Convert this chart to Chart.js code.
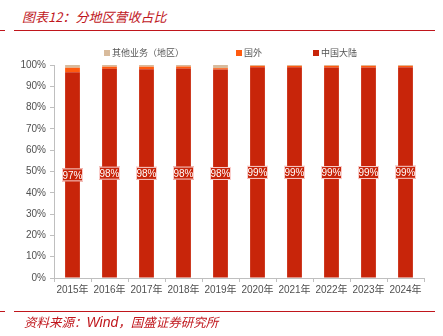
<!DOCTYPE html>
<html>
<head>
<meta charset="utf-8">
<script src="https://cdn.jsdelivr.net/npm/chart.js@4.4.1/dist/chart.umd.min.js"></script>
<style>
    body { margin: 0; background: #fff; }
    #wrap { position: relative; width: 443px; height: 336px; overflow: hidden; }
    #myChart { position: absolute; left: 0; top: 0; }
    .title { position: absolute; left: 22px; top: 7px; font: italic 13px "Noto Sans CJK SC", sans-serif; color: #C0161C; }
    .source { position: absolute; left: 24px; top: 312px; font: italic 12.5px "Noto Sans CJK SC", sans-serif; color: #C0161C; }
    .line { position: absolute; height: 1px; background: #C0161C; }
</style>
</head>
<body>
<div id="wrap">
    <div class="title">图表12：分地区营收占比</div>
    <div class="line" style="left:0;width:5px;top:30px"></div>
    <div class="line" style="left:14px;width:421px;top:30px"></div>
    <canvas id="myChart" width="443" height="336"></canvas>
    <div class="line" style="left:0;width:5px;top:311px"></div>
    <div class="line" style="left:14px;width:421px;top:311px"></div>
    <div class="source">资料来源：<span style="font-family:'Liberation Sans';font-size:14px">Wind</span>，国盛证券研究所</div>
</div>
<script>
const years = ["2015年", "2016年", "2017年", "2018年", "2019年", "2020年", "2021年", "2022年", "2023年", "2024年"];
const mainland = [96.6, 98.2, 98.0, 98.3, 97.9, 98.9, 98.9, 98.8, 98.8, 99.0];
const overseas = [2.1, 1.0, 1.2, 1.0, 0.6, 0.7, 0.7, 0.8, 0.8, 0.6];
const others = [1.3, 0.8, 0.8, 0.7, 1.5, 0.4, 0.4, 0.4, 0.4, 0.4];
const yTicks = [0, 10, 20, 30, 40, 50, 60, 70, 80, 90, 100];

const RED = "#C8250A";
const ORANGE = "#FF5A0F";
const TAN = "#D8BB9C";

// 中国大陆 数据标签
const labelPlugin = {
    id: "labelPlugin",
    afterDatasetsDraw(chart) {
        const ctx = chart.ctx;
        const meta = chart.getDatasetMeta(0);
        ctx.save();
        ctx.font = "10px 'Liberation Sans', Arial, sans-serif";
        ctx.textAlign = "center";
        ctx.textBaseline = "middle";
        meta.data.forEach(function (bar, i) {
            const cy = (bar.y + bar.base) / 2;
            const w = 21, h = 13;
            ctx.fillStyle = RED;
            ctx.fillRect(bar.x - w / 2, cy - h / 2, w, h);
            ctx.strokeStyle = "rgba(255,225,225,0.9)";
            ctx.lineWidth = 1;
            ctx.strokeRect(bar.x - w / 2 + 0.5, cy - h / 2 + 0.5, w - 1, h - 1);
            ctx.fillStyle = "#fff";
            ctx.fillText(Math.round(mainland[i]) + "%", bar.x, cy + 1);
        });
        ctx.restore();
    }
};

// 图例
const legendPlugin = {
    id: "legendPlugin",
    afterDraw(chart) {
        const ctx = chart.ctx;
        const order = [2, 1, 0];
        const xs = [104, 236, 313];
        ctx.save();
        ctx.font = "9px 'Noto Sans CJK SC', sans-serif";
        ctx.textBaseline = "middle";
        order.forEach(function (di, k) {
            const ds = chart.data.datasets[di];
            ctx.fillStyle = ds.backgroundColor;
            ctx.fillRect(xs[k], 50, 6, 6);
            ctx.fillStyle = "#555";
            ctx.fillText(ds.label, xs[k] + 8, 53);
        });
        ctx.restore();
    }
};

const ctx = document.querySelector("#myChart").getContext("2d");
const myChart = new Chart(ctx, {
    type: "bar",
    data: {
        labels: years,
        datasets: [
            { label: "中国大陆", data: mainland, backgroundColor: RED },
            { label: "国外", data: overseas, backgroundColor: ORANGE },
            { label: "其他业务（地区）", data: others, backgroundColor: TAN }
        ]
    },
    options: {
        responsive: false,
        animation: false,
        layout: { padding: { left: 0, right: 19, top: 65, bottom: 38 } },
        datasets: { bar: { categoryPercentage: 1, barPercentage: 0.4 } },
        plugins: { legend: { display: false }, tooltip: { enabled: false } },
        scales: {
            x: {
                stacked: true,
                afterFit: function (scale) { scale.height = 20; },
                grid: { display: true, drawOnChartArea: false, offset: true, color: "#bfbfbf", tickLength: 4 },
                border: { color: "#bfbfbf" },
                ticks: { color: "#505050", font: { size: 10, family: "'Liberation Sans', 'Noto Sans CJK SC'" }, padding: 2, maxRotation: 0 }
            },
            y: {
                stacked: true,
                min: 0,
                max: 100,
                afterFit: function (scale) { scale.width = 54; },
                afterBuildTicks: function (scale) { scale.ticks = yTicks.map(v => ({ value: v })); },
                grid: { display: true, drawOnChartArea: false, color: "#bfbfbf", tickLength: 4 },
                border: { color: "#bfbfbf" },
                ticks: { color: "#505050", font: { size: 10, family: "'Liberation Sans', Arial" }, padding: 4, callback: v => v + "%" }
            }
        }
    },
    plugins: [labelPlugin, legendPlugin]
});
</script>
</body>
</html>
